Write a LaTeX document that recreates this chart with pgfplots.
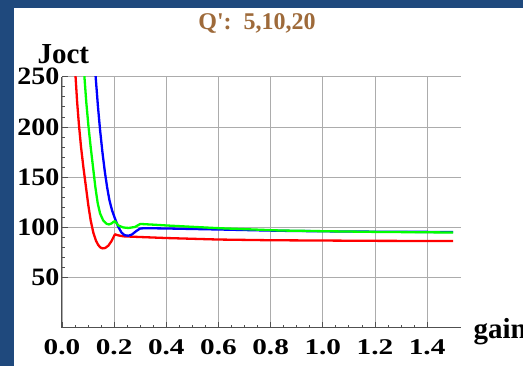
\documentclass[border=0pt]{standalone}
\usepackage{fontspec}
\setmainfont{Liberation Serif}
\newfontfamily\xtickfont[FakeStretch=1.3]{Liberation Serif}
\newfontfamily\ytickfont[FakeStretch=1.12]{Liberation Serif}
\usepackage{pgfplots}
\pgfplotsset{compat=1.18}
\definecolor{bgblue}{RGB}{31,73,125}
\definecolor{titlebrown}{RGB}{158,106,58}
\definecolor{gridgray}{RGB}{172,172,172}
\definecolor{axgray}{RGB}{80,80,80}
\begin{document}
\begin{tikzpicture}
\useasboundingbox (0pt,0pt) rectangle (523pt,366pt);
\fill[white] (0pt,0pt) rectangle (523pt,366pt);
\begin{axis}[
  at={(62pt,38pt)}, anchor=south west,
  scale only axis, width=399pt, height=251.3pt,
  xmin=0, xmax=1.53, ymin=0, ymax=250,
  axis lines*=left,
  axis line style={-, line width=1pt, color=axgray},
  tick align=inside,
  xtick={0,0.2,0.4,0.6,0.8,1.0,1.2,1.4},
  xticklabels={0.0,0.2,0.4,0.6,0.8,1.0,1.2,1.4},
  ytick={50,100,150,200,250},
  yticklabels={50,100,150,200,250},
  minor x tick num=3, minor y tick num=4,
  major tick length=6pt, minor tick length=3pt,
  tick style={color=axgray, line width=0.8pt},
  grid=major, major grid style={gridgray, line width=0.8pt},
  x tick label style={font=\xtickfont\bfseries\fontsize{22.5}{22.5}\selectfont, yshift=-8pt},
  y tick label style={font=\ytickfont\bfseries\fontsize{25}{25}\selectfont, xshift=1pt},
  xlabel={gain},
  every axis x label/.style={at={(axis description cs:1,0)}, anchor=base west, xshift=9pt, yshift=-11pt, font=\bfseries\fontsize{29}{29}\selectfont},
  ylabel={Joct},
  every axis y label/.style={at={(axis description cs:0,1)}, anchor=base west, xshift=-28pt, yshift=13pt, font=\bfseries\fontsize{29}{29}\selectfont},
  clip=true,
]
\addplot[red, line width=2.3pt, line join=round] coordinates {
(0.046,280) (0.052,250) (0.058,225) (0.065,202) (0.073,180) (0.082,160)
(0.092,140) (0.101,122) (0.110,107) (0.120,95) (0.130,87) (0.139,82.5)
(0.148,80) (0.156,79.2) (0.166,79.6) (0.178,82) (0.190,86.5) (0.203,93.2)
(0.215,92.2) (0.235,91.2) (0.30,90.5) (0.40,89.5) (0.60,88) (0.80,87.3)
(1.0,87) (1.2,86.7) (1.5,86.5)
};
\addplot[blue, line width=2.3pt, line join=round] coordinates {
(0.125,280) (0.129,250) (0.138,220) (0.146,197) (0.155,175) (0.164,156)
(0.173,140) (0.182,127) (0.192,117) (0.203,109) (0.215,101) (0.228,95)
(0.240,92.3) (0.254,91.8) (0.268,93) (0.285,96.5) (0.300,99) (0.32,99.3)
(0.40,99) (0.60,98) (0.836,96.7) (1.0,96.2) (1.2,95.8) (1.5,95.5)
};
\addplot[green, line width=2.3pt, line join=round] coordinates {
(0.082,280) (0.086,250) (0.093,225) (0.101,202) (0.110,180) (0.119,160)
(0.128,140) (0.137,124) (0.146,114) (0.158,107) (0.171,103.7) (0.180,103)
(0.190,104) (0.197,105.5) (0.203,106.3) (0.216,102) (0.235,100) (0.255,99.5)
(0.28,100.5) (0.30,103.5) (0.35,102.8) (0.40,102) (0.60,99.3) (0.836,97)
(1.0,96.3) (1.2,95.6) (1.5,95)
};
\end{axis}
\fill[bgblue] (0pt,0pt) rectangle (14pt,366pt);
\fill[bgblue] (0pt,358pt) rectangle (523pt,366pt);
\node[anchor=base, text=titlebrown, font=\bfseries\fontsize{24}{24}\selectfont] at (257pt,336pt) {Q\textquotesingle:\ \ 5,10,20};
\end{tikzpicture}
\end{document}
